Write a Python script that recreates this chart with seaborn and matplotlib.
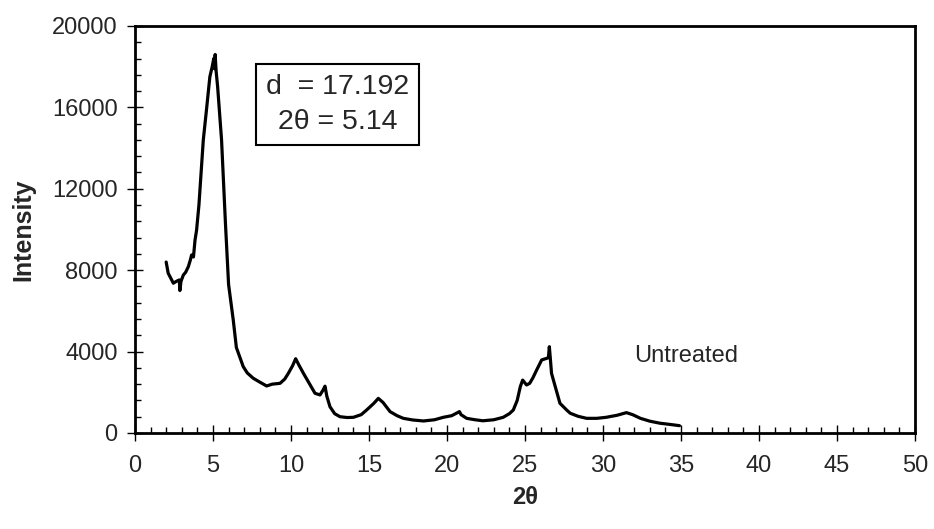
import matplotlib
matplotlib.use("Agg")
import matplotlib.pyplot as plt
from matplotlib.ticker import MultipleLocator
import seaborn as sns
import pandas as pd

two_theta = [2.0, 2.13, 2.3, 2.46, 2.65, 2.84, 2.88, 2.95, 3.1, 3.25, 3.42, 3.55, 3.63, 3.75,
             3.85, 3.95, 4.1, 4.38, 4.6, 4.8, 4.95, 5.05, 5.1, 5.14, 5.2, 5.3, 5.55, 5.8, 6.0,
             6.3, 6.5, 6.94, 7.2, 7.58, 8.0, 8.44, 8.8, 9.3, 9.6, 9.83, 10.1, 10.3, 10.5, 10.8,
             11.2, 11.54, 11.86, 12.05, 12.18, 12.3, 12.5, 12.8, 13.14, 13.6, 14.0, 14.5, 14.85,
             15.3, 15.6, 15.9, 16.35, 16.8, 17.2, 17.8, 18.5, 19.2, 19.76, 20.3, 20.8, 20.9,
             21.26, 21.8, 22.3, 23.0, 23.6, 24.0, 24.25, 24.5, 24.7, 24.85, 25.1, 25.3, 25.5,
             25.75, 26.07, 26.4, 26.5, 26.56, 26.62, 26.7, 27.03, 27.24, 27.67, 27.9, 28.4,
             28.95, 29.6, 30.2, 30.9, 31.5, 31.9, 32.4, 33.0, 33.65, 34.3, 34.9]
intensity = [8400, 7850, 7600, 7360, 7450, 7520, 7000, 7450, 7760, 7900, 8170, 8500, 8750, 8650,
             9480, 9970, 11200, 14400, 16000, 17500, 18000, 18400, 17900, 18600, 17800, 17000,
             14400, 10300, 7300, 5550, 4200, 3260, 2950, 2690, 2500, 2310, 2400, 2440, 2650,
             2930, 3300, 3650, 3350, 2930, 2400, 1950, 1870, 2100, 2300, 1800, 1290, 950, 800,
             760, 770, 900, 1130, 1450, 1700, 1500, 1050, 850, 720, 640, 590, 650, 770, 850,
             1050, 900, 720, 650, 600, 650, 770, 950, 1130, 1600, 2280, 2600, 2360, 2440, 2700,
             3100, 3590, 3670, 3700, 4240, 3700, 2930, 2030, 1460, 1130, 970, 820, 720, 720,
             770, 870, 1000, 900, 720, 580, 480, 420, 360]

x_ticks = [0, 5, 10, 15, 20, 25, 30, 35, 40, 45, 50]
y_ticks = [0, 4000, 8000, 12000, 16000, 20000]
box_text = "d  = 17.192\n2\u03b8 = 5.14"
sample_label = "Untreated"

sns.set_style("white")
plt.rcParams['font.family'] = ['Liberation Sans', 'DejaVu Sans']

df = pd.DataFrame({"two_theta": two_theta, "intensity": intensity})

fig = plt.figure(figsize=(9.34, 5.29), dpi=100)
ax = fig.add_axes([0.1445, 0.1815, 0.8352, 0.7694])

sns.lineplot(data=df, x="two_theta", y="intensity", ax=ax, color="black",
             linewidth=2.3, sort=False, estimator=None)

ax.set_xlim(0, 50)
ax.set_ylim(0, 20000)
ax.set_xticks(x_ticks)
ax.set_yticks(y_ticks)
ax.set_xticklabels([str(t) for t in x_ticks])
ax.set_yticklabels([str(t) for t in y_ticks])
ax.xaxis.set_minor_locator(MultipleLocator(1))
ax.yaxis.set_minor_locator(MultipleLocator(800))

ax.tick_params(axis="both", which="major", direction="inout", length=11, width=1,
               labelsize=17, color="black")
ax.tick_params(axis="x", which="major", pad=10)
ax.tick_params(axis="y", which="major", pad=7)
ax.tick_params(axis="both", which="minor", direction="in", length=4, width=1, color="black")
ax.tick_params(bottom=True, left=True, which="both")

for sp in ax.spines.values():
    sp.set_visible(True)
    sp.set_color("black")
    sp.set_linewidth(2)

ax.set_xlabel("2\u03b8", fontsize=17, fontweight="bold", labelpad=7)
ax.set_ylabel("Intensity", fontsize=18, fontweight="bold", labelpad=12)

ax.text(12.98, 16140, box_text, fontsize=20.5, ha="center", va="center",
        linespacing=1.45, multialignment="center",
        bbox=dict(boxstyle="square,pad=0.36", facecolor="white", edgecolor="black", linewidth=1.5))
ax.text(35.3, 3780, sample_label, fontsize=17, ha="center", va="center")

fig.savefig("out.png", dpi=100)
